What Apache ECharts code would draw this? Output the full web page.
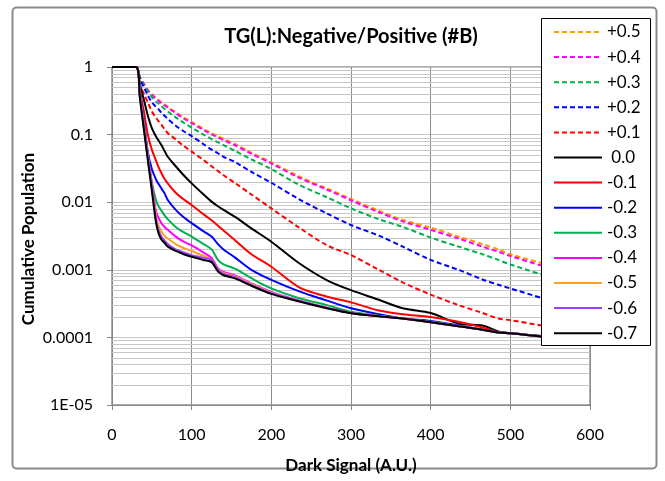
<!DOCTYPE html>
<html>
<head>
<meta charset="utf-8">
<script src="https://cdn.jsdelivr.net/npm/echarts@6/dist/echarts.min.js"></script>
<style>
html,body{margin:0;padding:0;background:#fff;}
#chart{width:665px;height:481px;}
</style>
</head>
<body>
<div id="chart"></div>
<script>
// ---- data ----
var darkSignal = [0,30,35,40,45,50,55,58,62,66,70,80,90,100,115,125,133,140,155,175,200,235,270,300,335,365,400,435,465,485,500,540,600];

var pos05 = [1,1,0.72,0.57,0.46,0.40,0.35,0.33,0.30,0.28,0.26,0.215,0.18,0.154,0.122,0.105,0.095,0.087,0.072,0.054,0.039,0.024,0.016,0.0112,0.0075,0.0055,0.0042,0.0031,0.0024,0.0020,0.0017,0.00125,0.0008];
var pos04 = [1,1,0.71,0.56,0.45,0.39,0.34,0.32,0.29,0.27,0.25,0.207,0.173,0.148,0.117,0.101,0.091,0.083,0.069,0.052,0.0375,0.023,0.0153,0.0107,0.0071,0.0052,0.0039,0.0029,0.0022,0.00185,0.0016,0.00115,0.00074];
var pos03 = [1,1,0.70,0.54,0.43,0.36,0.31,0.29,0.265,0.24,0.22,0.18,0.15,0.127,0.10,0.086,0.077,0.070,0.057,0.043,0.0308,0.018,0.0118,0.0081,0.0056,0.0043,0.0030,0.0022,0.0017,0.0014,0.0012,0.00085,0.00055];
var pos02 = [1,1,0.66,0.50,0.38,0.30,0.26,0.24,0.21,0.19,0.17,0.135,0.112,0.095,0.072,0.060,0.053,0.047,0.039,0.028,0.0194,0.011,0.0068,0.0046,0.0032,0.0022,0.0014,0.0010,0.00072,0.0006,0.00053,0.00038,0.00022];
var pos01 = [1,1,0.55,0.40,0.30,0.22,0.18,0.16,0.14,0.12,0.105,0.085,0.068,0.056,0.042,0.034,0.029,0.025,0.019,0.013,0.0081,0.0042,0.0023,0.00165,0.001,0.00065,0.00043,0.0003,0.00023,0.00019,0.00018,0.00015,0.00012];
var zero0 = [1,1,0.55,0.33,0.19,0.125,0.095,0.083,0.07,0.057,0.047,0.034,0.025,0.019,0.013,0.0102,0.0087,0.0077,0.006,0.0041,0.0026,0.00125,0.0007,0.0005,0.00036,0.00027,0.00023,0.00016,0.00015,0.000122,0.000115,0.000105,0.0001];
var neg01 = [1,1,0.45,0.22,0.10,0.06,0.042,0.034,0.027,0.022,0.019,0.0138,0.011,0.0091,0.0066,0.0054,0.0045,0.0038,0.0027,0.0017,0.00111,0.00055,0.0004,0.00033,0.00025,0.00022,0.0002,0.00017,0.00014,0.00012,0.000116,0.000104,0.0001];
var neg02 = [1,1,0.42,0.16,0.055,0.031,0.022,0.019,0.016,0.0135,0.0108,0.0077,0.006,0.0049,0.0037,0.0031,0.0024,0.002,0.0015,0.001,0.00071,0.00048,0.00035,0.00027,0.00022,0.00019,0.000175,0.00015,0.00013,0.000119,0.000116,0.000104,0.0001];
var neg03 = [1,1,0.40,0.15,0.05,0.02,0.011,0.0089,0.0075,0.0064,0.0056,0.0043,0.0036,0.0031,0.0024,0.002,0.0014,0.0012,0.00103,0.00075,0.00053,0.00038,0.0003,0.00024,0.00021,0.00019,0.00017,0.000147,0.00013,0.000118,0.000115,0.000103,0.0001];
var neg04 = [1,1,0.38,0.14,0.048,0.019,0.0075,0.006,0.0049,0.0043,0.0039,0.0031,0.0026,0.0023,0.0018,0.0015,0.00105,0.00093,0.00082,0.00063,0.00047,0.00035,0.000275,0.00023,0.000207,0.00019,0.000168,0.000146,0.00013,0.000118,0.000115,0.000103,0.0001];
var neg05 = [1,1,0.37,0.13,0.046,0.017,0.0066,0.0046,0.0037,0.0032,0.0029,0.0024,0.0021,0.0019,0.0016,0.0014,0.001,0.0009,0.00079,0.00062,0.00046,0.00035,0.00027,0.00023,0.000207,0.00019,0.000168,0.000146,0.00013,0.000118,0.000115,0.000103,0.0001];
var neg06 = [1,1,0.36,0.125,0.044,0.016,0.0058,0.004,0.0031,0.0027,0.0024,0.002,0.0018,0.00165,0.0015,0.0014,0.001,0.00087,0.00077,0.0006,0.00045,0.00035,0.000272,0.00023,0.000206,0.00019,0.000168,0.000146,0.00013,0.000118,0.000115,0.000103,0.0001];
var neg07 = [1,1,0.35,0.12,0.042,0.015,0.0052,0.0036,0.0028,0.0025,0.0022,0.0019,0.0017,0.00156,0.0014,0.0013,0.00095,0.00083,0.00074,0.00058,0.00044,0.00034,0.00027,0.000228,0.000205,0.00019,0.000168,0.000146,0.00013,0.000118,0.000115,0.000103,0.0001];

var seriesNames = ['+0.5','+0.4','+0.3','+0.2','+0.1','0.0','-0.1','-0.2','-0.3','-0.4','-0.5','-0.6','-0.7'];
var seriesValues = [pos05,pos04,pos03,pos02,pos01,zero0,neg01,neg02,neg03,neg04,neg05,neg06,neg07];
var xTickLabels = ['0','100','200','300','400','500','600'];
var yTickLabels = ['1','0.1','0.01','0.001','0.0001','1E-05'];

// ---- styles ----
var colors = ['#FF9900','#FF00FF','#00B050','#0000FF','#FF0000','#000000','#FF0000','#0000FF','#00B050','#FF00FF','#FFA020','#A040FF','#000000'];
var dashed = [true,true,true,true,true,false,false,false,false,false,false,false,false];

var FONT = 'Lato, "Open Sans", sans-serif';

var series = [];
seriesNames.forEach(function (n, i) {
  series.push({
    type: 'line', name: n,
    data: darkSignal.map(function (x, j) { return [x, seriesValues[i][j]]; }),
    showSymbol: false, symbol: 'none', smooth: 0.3,
    z: 2,
    lineStyle: {color: colors[i], width: 2, type: dashed[i] ? [5, 3] : 'solid'},
    itemStyle: {color: colors[i]}
  });
});

var baseGraphic = [
  {type: 'rect', z: 0, silent: true, shape: {x: 12.5, y: 7.5, width: 644, height: 461, r: 4},
    style: {fill: 'none', stroke: '#8a8a8a', lineWidth: 2}},
  {type: 'rect', z: 9, silent: true, shape: {x: 541.5, y: 18.5, width: 109, height: 327},
    style: {fill: '#fff', stroke: '#000', lineWidth: 1}},
  {type: 'text', z: 10, silent: true, x: 351, y: 37,
    style: {text: 'TG(L):Negative/Positive (#B)', font: 'bold 20px ' + FONT, fill: '#000',
      textAlign: 'center', textVerticalAlign: 'middle'}},
  {type: 'text', z: 10, silent: true, x: 29, y: 239, rotation: Math.PI / 2,
    style: {text: 'Cumulative Population', font: 'bold 17px ' + FONT, fill: '#000',
      textAlign: 'center', textVerticalAlign: 'middle'}}
];

var chart = echarts.init(document.getElementById('chart'), null, {renderer: 'canvas'});
chart.setOption({
  animation: false,
  backgroundColor: '#fff',
  grid: {left: 112, right: 75, top: 67, bottom: 76, show: true, borderColor: '#595959', borderWidth: 1},
  xAxis: {
    type: 'value', min: 0, max: 600, interval: 100,
    axisLine: {show: true, lineStyle: {color: '#868686', width: 1}},
    axisTick: {show: true, inside: false, length: 5, lineStyle: {color: '#868686'}},
    axisLabel: {margin: 22, fontSize: 16, color: '#000', fontFamily: FONT,
      formatter: function (v) { return xTickLabels[Math.round(v / 100)]; }},
    splitLine: {show: true, lineStyle: {color: '#8c8c8c', width: 1}},
    name: 'Dark Signal (A.U.)', nameLocation: 'middle', nameGap: 52,
    nameTextStyle: {fontSize: 17, fontWeight: 'bold', color: '#000', fontFamily: FONT}
  },
  yAxis: {
    type: 'log', logBase: 10, min: 0.00001, max: 1,
    axisLine: {show: true, lineStyle: {color: '#868686', width: 1}},
    axisTick: {show: true, length: 5, lineStyle: {color: '#868686'}},
    axisLabel: {margin: 19, fontSize: 16, color: '#000', fontFamily: FONT,
      formatter: function (v) { return yTickLabels[Math.round(-Math.log10(v))]; }},
    splitLine: {show: true, lineStyle: {color: '#c6c6c6', width: 1}}
  },
  legend: {
    data: seriesNames,
    orient: 'vertical', left: 541, top: 18,
    padding: [5, 10, 4, 12],
    itemWidth: 48, itemHeight: 10, itemGap: 7.1,
    itemStyle: {opacity: 0},
    formatter: function (n) { return n === '0.0' ? ' 0.0' : n; },
    textStyle: {fontSize: 17, color: '#000', fontFamily: FONT, lineHeight: 18},
    backgroundColor: 'transparent', z: 10,
    selectedMode: false
  },
  graphic: baseGraphic,
  series: series
});

// minor log grid lines at 2..9 x 10^k, positioned through the axis scale
var x0 = chart.convertToPixel({xAxisIndex: 0}, 0);
var x1 = chart.convertToPixel({xAxisIndex: 0}, 600);
var minorLines = [];
for (var k = 1; k <= 5; k++) {
  for (var m = 2; m <= 9; m++) {
    var y = Math.round(chart.convertToPixel({yAxisIndex: 0}, m * Math.pow(10, -k))) + 0.5;
    minorLines.push({type: 'line', z: 1, silent: true,
      shape: {x1: x0, y1: y, x2: x1, y2: y},
      style: {stroke: '#c6c6c6', lineWidth: 1}});
  }
}
chart.setOption({graphic: baseGraphic.concat(minorLines)});
</script>
</body>
</html>
